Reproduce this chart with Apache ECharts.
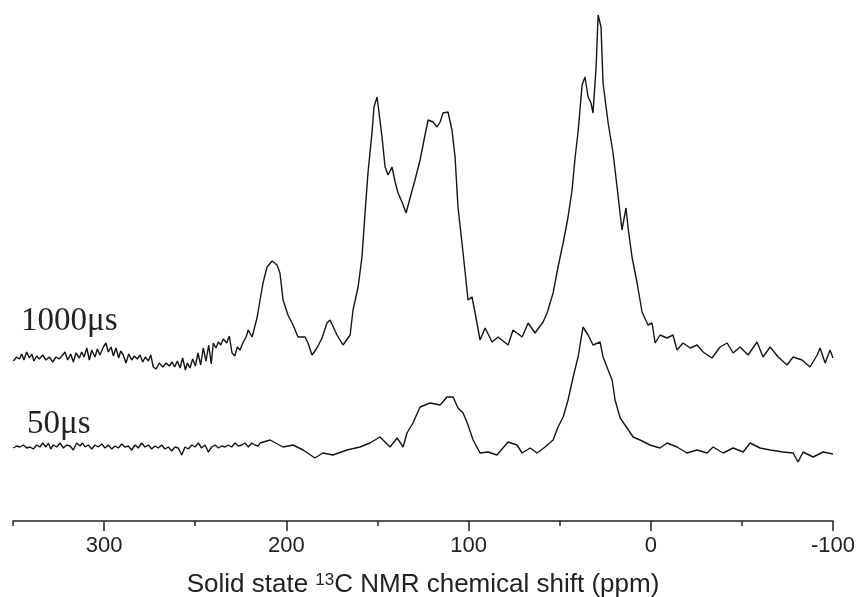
<!DOCTYPE html>
<html>
<head>
<meta charset="utf-8">
<title>13C NMR</title>
<script src="https://cdn.jsdelivr.net/npm/echarts@6/dist/echarts.min.js"></script>
<style>
  html, body { margin: 0; padding: 0; background: #fff; }
  #chart { width: 856px; height: 597px; }
</style>
</head>
<body>
<div id="chart"></div>
<script>
// chemical shift (ppm) and intensity (arb. units, traces offset)
var shift1000 = [349.8, 348.0, 346.5, 345.2, 344.0, 342.5, 341.0, 339.7, 338.5, 337.0, 335.6, 333.7, 331.9, 330.1, 328.2, 326.4, 324.6, 322.7, 321.5, 320.0,
  318.3, 316.9, 315.4, 313.6, 312.3, 311.0, 309.5, 308.1, 306.8, 305.0, 303.7, 302.3, 300.4, 299.0, 297.7, 296.2, 294.9, 293.5, 292.0, 290.9,
  289.5, 288.0, 286.5, 284.9, 283.4, 281.8, 280.3, 278.8, 277.4, 275.7, 274.4, 273.0, 271.5, 269.7, 267.8, 266.0, 264.2, 262.7, 261.3, 259.8,
  258.3, 256.9, 255.4, 254.3, 252.9, 251.4, 249.9, 248.5, 247.0, 245.6, 244.1, 242.6, 241.2, 240.1, 238.6, 237.3, 236.0, 234.6, 232.7, 231.3,
  229.8, 228.3, 226.9, 225.4, 223.9, 222.1, 220.9,
  218.8, 216.1, 214.4, 212.8, 210.6, 207.8, 205.1, 203.5, 201.8, 199.1, 196.3, 193.6, 189.7, 188.1, 185.9, 183.2, 180.4, 177.7, 176.0, 172.2,
  168.9, 165.0, 163.4, 160.6, 158.5, 156.8, 155.2, 153.0, 151.9, 150.2, 149.1, 147.5, 145.8, 144.2, 142.0, 140.3, 138.7, 136.5, 134.3, 132.1,
  129.4, 126.6, 123.9, 122.2, 119.5, 117.3, 115.6, 114.0, 111.3, 109.1, 107.4, 105.8, 103.0, 100.3, 98.1, 96.4, 93.7, 90.9, 87.1, 83.8,
  78.3, 75.6, 70.6, 67.3, 63.5, 59.1, 56.9, 53.6, 50.9, 48.1, 45.4, 43.2, 41.5, 39.9, 37.7, 36.1, 34.4, 32.8, 31.7, 30.0,
  28.9, 27.3, 26.2, 23.4, 20.7, 18.5, 15.8, 13.6, 12.5, 10.3, 7.5, 4.8, 1.5, -0.7, -2.4, -5.1, -8.9, -12.2, -14.4, -17.7,
  -21.6, -25.4, -28.7, -33.6, -38.0, -41.9, -45.2, -49.0, -53.4, -58.3, -61.6, -65.5, -69.9, -74.8, -78.1, -83.0, -87.4, -91.3, -92.9, -95.7,
  -98.4, -100];
var int1000 = [160, 164, 162, 167, 161, 169, 163, 167, 160, 165, 162, 166, 161, 164, 159, 164, 162, 166, 169, 161,
  167, 159, 168, 163, 169, 164, 173, 161, 171, 164, 172, 166, 174, 178, 169, 174, 165, 173, 163, 170,
  166, 158, 167, 161, 165, 162, 166, 159, 164, 160, 166, 154, 152, 158, 154, 158, 155, 159, 154, 160,
  153, 163, 151, 158, 153, 162, 155, 168, 156, 173, 160, 176, 157, 178, 173, 179, 176, 182, 178, 185,
  168, 165, 174, 171, 178, 184, 191,
  184, 203, 221, 238, 254, 260, 256, 248, 221, 206, 196, 184, 184, 178, 166, 173, 183, 198, 201, 186,
  176, 186, 211, 234, 264, 308, 348, 388, 414, 424, 408, 384, 354, 346, 354, 339, 328, 319, 308, 323,
  341, 361, 386, 401, 399, 394, 399, 408, 409, 391, 364, 314, 268, 221, 224, 208, 181, 193, 179, 184,
  176, 191, 184, 198, 188, 199, 208, 228, 254, 278, 304, 331, 364, 389, 436, 444, 424, 418, 408, 454,
  506, 494, 438, 398, 368, 334, 291, 313, 294, 264, 238, 209, 196, 198, 178, 186, 183, 186, 171, 178,
  173, 176, 169, 163, 174, 178, 168, 174, 166, 179, 164, 174, 164, 156, 164, 161, 154, 166, 173, 158,
  171, 163];

var shift50 = [349.8, 348.0, 346.2, 344.3, 342.5, 340.7, 338.8, 337.0, 335.2, 333.7, 331.9, 330.6, 329.3, 327.9, 326.0, 324.2, 322.4, 320.5, 318.7, 316.9,
  315.1, 313.2, 311.8, 310.5, 308.7, 306.8, 305.0, 303.2, 301.3, 299.5, 297.7, 295.8, 294.0, 292.2, 290.4, 288.5, 286.7, 284.9, 283.0, 281.2,
  279.4, 277.6, 275.7, 273.9, 272.1, 270.2, 268.4, 266.6, 264.7, 262.9, 261.1, 259.3, 257.4, 255.6, 253.8, 251.9, 250.1, 248.3, 246.5, 244.6,
  242.8, 241.0, 239.1, 237.3, 235.5, 233.6, 231.8, 230.0, 228.2, 226.3, 224.5, 222.7, 220.8, 219.0, 217.2, 215.4,
  214.4, 208.9, 201.8, 196.3, 190.8, 184.3, 179.9, 174.4, 166.7, 159.6, 154.1, 148.6, 143.1, 139.2, 135.9, 133.8, 130.5,
  126.6, 121.1, 115.6, 111.8, 108.5, 105.8, 103.0, 100.3, 97.5, 93.7, 89.3, 84.4, 78.3, 73.4, 70.6, 66.2, 62.4, 58.0, 53.6, 50.9,
  48.1, 45.4, 42.6, 39.9, 37.2, 34.4, 31.7, 27.8, 26.2, 23.4, 21.2, 19.6, 16.8, 13.0, 9.7, 5.9, 0.4, -5.1, -8.9, -14.4,
  -19.9, -25.4, -30.9, -34.2, -39.7, -45.2, -50.7, -54.5, -60.0, -65.5, -72.6, -78.1, -80.8, -83.6, -89.1, -94.6, -100];
var int50 = [73, 75, 74, 76, 73, 74, 72, 76, 74, 78, 74, 78, 72, 76, 74, 78, 73, 76, 75, 71,
  78, 75, 78, 74, 76, 72, 76, 74, 77, 73, 76, 72, 75, 73, 77, 74, 75, 71, 76, 73,
  78, 74, 76, 72, 75, 73, 76, 72, 74, 70, 74, 73, 66, 74, 72, 76, 74, 78, 73, 76,
  69, 74, 76, 73, 75, 74, 76, 74, 78, 75, 76, 78, 74, 78, 76, 75,
  78, 81, 74, 76, 71, 63, 68, 66, 71, 74, 78, 84, 74, 83, 74, 88, 98,
  114, 118, 116, 124, 124, 113, 108, 96, 81, 68, 69, 66, 79, 76, 68, 73, 68, 74, 81, 94,
  104, 121, 144, 164, 194, 186, 176, 179, 164, 151, 141, 121, 103, 93, 84, 81, 76, 73, 78, 74,
  68, 71, 68, 74, 68, 73, 69, 78, 73, 71, 69, 68, 59, 69, 64, 69, 67];

var majorTicks = [300, 200, 100, 0, -100];
var minorTicks = [350, 250, 150, 50, -50];
var traceNames = ['1000\u03bcs', '50\u03bcs'];

function pairs(xs, ys) {
  return xs.map(function (x, i) { return [x, ys[i]]; });
}

var chart = echarts.init(document.getElementById('chart'));
var axisColor = '#222';
var sans = 'Liberation Sans, Arial, sans-serif';
var lineStyle = { color: '#151515', width: 1.4 };

chart.setOption({
  animation: false,
  grid: { left: 13, right: 23, top: 0, bottom: 76, containLabel: false, outerBoundsMode: 'none' },
  xAxis: [
    {
      type: 'value',
      inverse: true,
      min: -100,
      max: 350,
      position: 'bottom',
      axisLine: { lineStyle: { color: axisColor, width: 1.5 } },
      axisTick: { show: true, inside: false, length: 10, customValues: majorTicks, lineStyle: { color: axisColor, width: 1.5 } },
      axisLabel: { customValues: majorTicks, margin: 14, color: '#222', fontSize: 22, fontFamily: sans },
      splitLine: { show: false },
      name: 'Solid state {sup|13}C NMR chemical shift (ppm)',
      nameLocation: 'middle',
      nameGap: 51,
      nameTextStyle: {
        color: '#222',
        fontSize: 26,
        fontFamily: sans,
        rich: {
          sup: { fontSize: 17, verticalAlign: 'top', fontFamily: sans, color: '#222' }
        }
      }
    },
    {
      type: 'value',
      inverse: true,
      min: -100,
      max: 350,
      position: 'bottom',
      offset: 0,
      axisLine: { show: false },
      axisTick: { show: true, inside: false, length: 5, customValues: minorTicks, lineStyle: { color: axisColor, width: 1.5 } },
      axisLabel: { show: false },
      splitLine: { show: false }
    }
  ],
  yAxis: { type: 'value', show: false, min: 0, max: 521 },
  graphic: [
    { type: 'text', left: 21, top: 305, style: { text: traceNames[0], font: '33px "Liberation Serif", "Times New Roman", serif', fill: '#222' } },
    { type: 'text', left: 27, top: 408, style: { text: traceNames[1], font: '33px "Liberation Serif", "Times New Roman", serif', fill: '#222' } }
  ],
  series: [
    { name: traceNames[0], type: 'line', xAxisIndex: 0, data: pairs(shift1000, int1000), showSymbol: false, lineStyle: lineStyle },
    { name: traceNames[1], type: 'line', xAxisIndex: 0, data: pairs(shift50, int50), showSymbol: false, lineStyle: lineStyle }
  ]
});
</script>
</body>
</html>
